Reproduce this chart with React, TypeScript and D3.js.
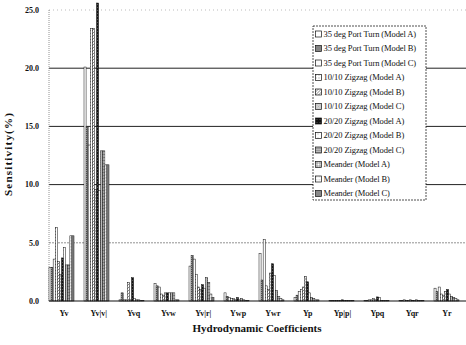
import React from "react";
import * as d3 from "d3";

const WIDTH = 466;
const HEIGHT = 345;

const categories = ["Yv", "Yv|v|", "Yvq", "Yvw", "Yv|r|", "Ywp", "Ywr", "Yp", "Yp|p|", "Ypq", "Yqr", "Yr"];

const series = [
  "35 deg Port Turn (Model A)",
  "35 deg Port Turn (Model B)",
  "35 deg Port Turn (Model C)",
  "10/10 Zigzag (Model A)",
  "10/10 Zigzag (Model B)",
  "10/10 Zigzag (Model C)",
  "20/20 Zigzag (Model A)",
  "20/20 Zigzag (Model B)",
  "20/20 Zigzag (Model C)",
  "Meander (Model A)",
  "Meander (Model B)",
  "Meander (Model C)",
];

// sensitivity (%) per coefficient, one value per series in legend order
const yv = [2.9, 2.9, 3.6, 6.3, 3.4, 2.3, 3.7, 4.6, 3.1, 3.1, 5.6, 5.6];
const yvAbsV = [20.1, 15.0, 13.4, 23.4, 23.4, 9.6, 25.6, 9.5, 12.9, 12.9, 11.7, 11.7];
const yvq = [0.1, 0.7, 0.1, 0.1, 1.6, 0.1, 2.0, 0.2, 0.1, 0.1, 0.05, 0.05];
const yvw = [1.5, 1.3, 1.2, 0.6, 0.5, 0.7, 0.7, 0.7, 0.7, 0.7, 0.1, 0.1];
const yvAbsR = [3.0, 3.9, 3.6, 2.3, 1.2, 1.0, 1.4, 1.1, 2.0, 1.6, 0.6, 0.3];
const ywp = [0.7, 0.4, 0.3, 0.2, 0.2, 0.1, 0.3, 0.1, 0.2, 0.1, 0.05, 0.05];
const ywr = [4.1, 1.8, 5.3, 1.3, 1.0, 2.4, 3.2, 2.2, 0.9, 0.4, 0.2, 0.1];
const yp = [0.3, 0.5, 0.8, 1.0, 1.2, 2.1, 1.65, 0.7, 0.3, 0.2, 0.1, 0.1];
const ypAbsP = [0.05, 0.05, 0.05, 0.05, 0.05, 0.05, 0.1, 0.05, 0.05, 0.05, 0.05, 0.05];
const ypq = [0.05, 0.05, 0.1, 0.1, 0.2, 0.1, 0.35, 0.3, 0.05, 0.05, 0.05, 0.05];
const yqr = [0.05, 0.05, 0.1, 0.05, 0.05, 0.1, 0.05, 0.05, 0.1, 0.05, 0.05, 0.05];
const yr = [1.1, 0.8, 1.2, 0.6, 0.5, 0.8, 1.0, 0.6, 0.4, 0.3, 0.2, 0.1];

const yTicks = [0, 5, 10, 15, 20, 25];

const valuesByCategory = [yv, yvAbsV, yvq, yvw, yvAbsR, ywp, ywr, yp, ypAbsP, ypq, yqr, yr];

const SERIF = "'Liberation Serif', 'DejaVu Serif', serif";

// hatch fills standing in for the greyscale patterns of the original
const Patterns = () => (
  <defs>
    <pattern id="p0" width="3" height="3" patternUnits="userSpaceOnUse">
      <rect width="3" height="3" fill="#fff" />
    </pattern>
    <pattern id="p1" width="2" height="2" patternUnits="userSpaceOnUse">
      <rect width="2" height="2" fill="#666" />
      <rect width="1" height="1" fill="#ddd" />
    </pattern>
    <pattern id="p2" width="3" height="3" patternUnits="userSpaceOnUse">
      <rect width="3" height="3" fill="#fbfbfb" />
    </pattern>
    <pattern id="p3" width="3" height="3" patternUnits="userSpaceOnUse">
      <rect width="3" height="3" fill="#fff" />
      <rect width="1" height="1" fill="#888" />
    </pattern>
    <pattern id="p4" width="3" height="3" patternUnits="userSpaceOnUse">
      <rect width="3" height="3" fill="#fff" />
      <path d="M0,3 L3,0" stroke="#555" strokeWidth="0.7" />
    </pattern>
    <pattern id="p5" width="3" height="3" patternUnits="userSpaceOnUse">
      <rect width="3" height="3" fill="#eee" />
      <path d="M0,0 L3,3 M0,3 L3,0" stroke="#777" strokeWidth="0.5" />
    </pattern>
    <pattern id="p6" width="3" height="3" patternUnits="userSpaceOnUse">
      <rect width="3" height="3" fill="#111" />
      <rect x="1" y="1" width="0.8" height="0.8" fill="#777" />
    </pattern>
    <pattern id="p7" width="4" height="4" patternUnits="userSpaceOnUse">
      <rect width="4" height="4" fill="#fff" />
      <rect x="2" y="2" width="1" height="1" fill="#aaa" />
    </pattern>
    <pattern id="p8" width="2" height="2" patternUnits="userSpaceOnUse">
      <rect width="2" height="2" fill="#bbb" />
      <rect width="1" height="1" fill="#777" />
    </pattern>
    <pattern id="p9" width="3" height="3" patternUnits="userSpaceOnUse">
      <rect width="3" height="3" fill="#fff" />
      <path d="M1.5,0 V3 M0,1.5 H3" stroke="#666" strokeWidth="0.6" />
    </pattern>
    <pattern id="p10" width="3" height="3" patternUnits="userSpaceOnUse">
      <rect width="3" height="3" fill="#fff" />
      <path d="M1,0 V1.5" stroke="#999" strokeWidth="0.6" />
    </pattern>
    <pattern id="p11" width="2" height="2" patternUnits="userSpaceOnUse">
      <rect width="2" height="2" fill="#ccc" />
      <path d="M1,0 V2 M0,1 H2" stroke="#444" strokeWidth="0.6" />
    </pattern>
  </defs>
);

const App = () => {
  const x = d3
    .scaleBand<string>()
    .domain(categories)
    .range([44, 464])
    .paddingInner(0.286)
    .paddingOuter(0.143);

  const xInner = d3
    .scaleBand<number>()
    .domain(d3.range(series.length))
    .range([0, x.bandwidth()]);

  const xLabel = d3.scalePoint<string>().domain(categories).range([64, 447]);

  const y = d3.scaleLinear().domain([0, 25]).range([301, 10]);

  const plotLeft = 49;
  const plotRight = 466;

  const legendX = 313;
  const legendY = 26;
  const legendRow = 14.5;

  return (
    <svg
      width={WIDTH}
      height={HEIGHT}
      style={{ position: "absolute", left: 0, top: 0, background: "#fff" }}
      fontFamily={SERIF}
    >
      <Patterns />
      <rect width={WIDTH} height={HEIGHT} fill="#fff" />

      {/* gridlines */}
      {yTicks.slice(1).map((t) => (
        <line
          key={t}
          x1={plotLeft}
          x2={plotRight}
          y1={y(t)}
          y2={y(t)}
          stroke={t === 25 ? "#aaa" : t === 5 ? "#777" : "#222"}
          strokeWidth={t === 25 || t === 5 ? 0.8 : 1}
          strokeDasharray={t === 25 ? "1,3" : t === 5 ? "2,1" : undefined}
        />
      ))}
      <line x1={plotLeft} x2={plotLeft} y1={y(25)} y2={y(0)} stroke="#777" strokeWidth={0.8} strokeDasharray="1,1" />

      {/* bars */}
      {categories.map((c, ci) => (
        <g key={c} transform={`translate(${x(c)},0)`}>
          {valuesByCategory[ci].map((v, si) => (
            <rect
              key={si}
              x={xInner(si)}
              y={y(v)}
              width={xInner.bandwidth()}
              height={y(0) - y(v)}
              fill={`url(#p${si})`}
              stroke="#111"
              strokeWidth={0.5}
            />
          ))}
        </g>
      ))}

      <line x1={plotLeft} x2={plotRight} y1={y(0)} y2={y(0)} stroke="#111" strokeWidth={1.2} />

      {/* y tick labels */}
      {yTicks.map((t) => (
        <text
          key={t}
          x={39}
          y={y(t)}
          dy="0.35em"
          textAnchor="end"
          fontSize={8}
          fontWeight="bold"
          fill="#111"
        >
          {t.toFixed(1)}
        </text>
      ))}

      {/* x tick labels */}
      {categories.map((c) => (
        <text
          key={c}
          x={xLabel(c)}
          y={316}
          textAnchor="middle"
          fontSize={8}
          fontWeight="bold"
          fill="#111"
        >
          {c}
        </text>
      ))}

      <text x={257} y={332} textAnchor="middle" fontSize={11} fontWeight="bold" fill="#111">
        Hydrodynamic Coefficients
      </text>

      <text
        transform="translate(12,154) rotate(-90)"
        textAnchor="middle"
        fontSize={11}
        fontWeight="bold"
        letterSpacing={1.2}
        fill="#111"
      >
        Sensitivity(%)
      </text>

      {/* legend */}
      <g>
        <rect
          x={legendX}
          y={legendY}
          width={113}
          height={174}
          fill="#fff"
          stroke="#222"
          strokeWidth={0.8}
          strokeDasharray="2,1"
        />
        {series.map((s, i) => (
          <g key={s} transform={`translate(${legendX + 2.5},${legendY + 8 + i * legendRow})`}>
            <rect x={0} y={-3} width={6} height={6} fill={`url(#p${i})`} stroke="#111" strokeWidth={0.7} />
            <text x={8} y={0} dy="0.33em" fontSize={8.5} letterSpacing={-0.1} fill="#111">
              {s}
            </text>
          </g>
        ))}
      </g>
    </svg>
  );
};

export default App;
